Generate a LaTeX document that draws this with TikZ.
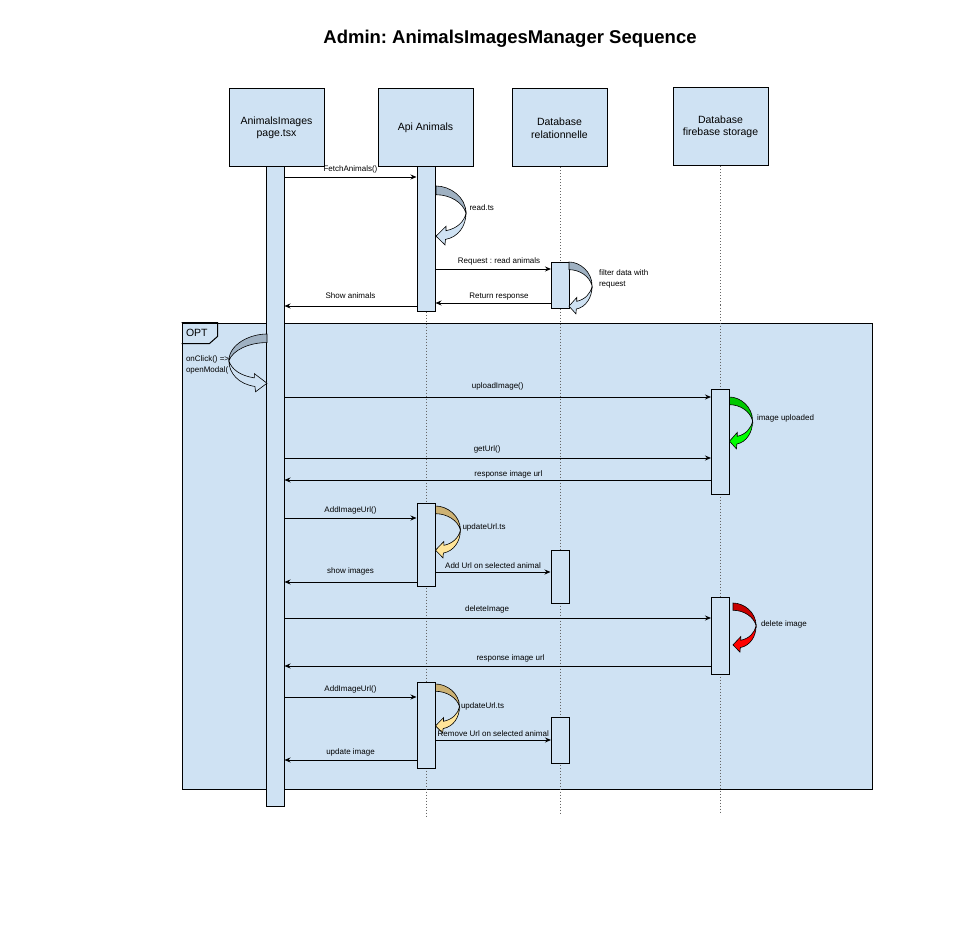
\documentclass[tikz,border=0pt]{standalone}
\usepackage{fontspec}
\setmainfont{Liberation Sans}
\usetikzlibrary{positioning}
\usetikzlibrary{arrows.meta}
\frenchspacing

\definecolor{boxblue}{HTML}{CFE2F3}
\definecolor{shadeblue}{HTML}{9FB1C2}
\definecolor{darkgreen}{HTML}{00C800}
\definecolor{litegreen}{HTML}{00FF00}
\definecolor{darkgold}{HTML}{CDB274}
\definecolor{litegold}{HTML}{FFE599}
\definecolor{darkred}{HTML}{C80000}
\definecolor{litered}{HTML}{FF0000}

\newcommand{\selfcall}[6]{%
  \begin{scope}[shift={(#1,#2)},xscale=#3,yscale=#4,line width=0.6pt]
    \filldraw[fill=#5] (0,0) .. controls (14,0) and (30,10) .. (30,25)
      .. controls (27,15) and (14,8) .. (0,8) -- cycle;
    \filldraw[fill=#6] (30,25) .. controls (30,37) and (22,47) .. (9.5,49)
      -- (9,54) -- (0,46) -- (10,37) -- (10,41)
      .. controls (21,39) and (28,33) .. (30,25) -- cycle;
  \end{scope}}

\begin{document}
\begin{tikzpicture}[x=1pt,y=-1pt,
    head/.style={draw,line width=1pt,fill=boxblue,minimum width=95pt,
      minimum height=78pt,align=center,font=\fontsize{10.5}{12.5}\selectfont},
    act/.style={draw,line width=1pt,fill=boxblue,minimum width=18pt,inner sep=0pt},
    life/.style={draw=black!60,line width=0.8pt,dash pattern=on 1pt off 2pt},
    msg/.style={->,line width=0.9pt},
    lbl/.style={font=\fontsize{8}{10.5}\selectfont},
    >={Stealth[length=6pt,width=5pt]}]
    \useasboundingbox (0,0) rectangle (959,944);

    \path (510, 39) node [font=\bfseries\fontsize{18.5}{22}\selectfont] (title)
	{Admin: AnimalsImagesManager Sequence};

    % OPT frame
    \path (527, 556) node [draw,line width=1pt,fill=boxblue,inner sep=0pt,
	minimum width=690pt,minimum height=466pt] (opt) {};
    \draw [line width=1pt] (opt.north west) -- ++(36,0) -- ++(0,14)
	-- ++(-8,7) -- ++(-28,0);
    \path (opt.north west) ++(1,10) node [anchor=west,font=\fontsize{10.5}{12}\selectfont] (optlbl) {OPT};

    \path (276.5, 128) node [head] (pA) {AnimalsImages\\page.tsx};
    \path (425.5, 128) node [head] (pB) {Api Animals};
    \path (559.5, 128) node [head] (pC) {Database\\relationnelle};
    \path (720.5, 127) node [head] (pD) {Database\\firebase storage};

    \path (426.5, 817) coordinate (endB) (560.5, 813) coordinate (endC)
	(720.5, 813) coordinate (endD);
    \draw [life] (pB.south -| endB) -- (endB);
    \draw [life] (pC.south -| endC) -- (endC);
    \draw [life] (pD.south -| endD) -- (endD);

    \path (275, 486.5) node [act,minimum height=639pt] (actA) {};
    \path (426, 239) node [act,minimum height=144pt] (actB1) {};
    \path (560.5, 285.5) node [act,minimum height=45pt] (actC1) {};
    \path (720.5, 441.5) node [act,minimum height=105pt] (actD1) {};
    \path (426, 544.5) node [act,minimum height=83pt] (actB2) {};
    \path (560, 576.5) node [act,minimum height=53pt] (actC2) {};
    \path (720.5, 635.5) node [act,minimum height=77pt] (actD2) {};
    \path (426, 725) node [act,minimum height=86pt] (actB3) {};
    \path (560.5, 740) node [act,minimum height=46pt] (actC3) {};

    \selfcall{436}{186}{1}{1.09}{shadeblue}{boxblue}
    \selfcall{569}{262}{0.77}{0.96}{shadeblue}{boxblue}
    \selfcall{267}{334}{-1.27}{1.07}{shadeblue}{boxblue}
    \selfcall{729.5}{397}{0.77}{0.96}{darkgreen}{litegreen}
    \selfcall{435.5}{506}{0.83}{0.96}{darkgold}{litegold}
    \selfcall{733}{603}{0.77}{0.91}{darkred}{litered}
    \selfcall{435.5}{684}{0.8}{0.91}{darkgold}{litegold}

    \path (466, 207.5) node [lbl,anchor=west] (readlbl) {read.ts};
    \path (595.5, 279) node [lbl,anchor=west,align=left] (filterlbl) {filter data with\\request};
    \path (182.5, 365) node [lbl,anchor=west,align=left] (clicklbl) {onClick() =>\\openModal(};
    \path (753.5, 418) node [lbl,anchor=west] (uplbl) {image uploaded};
    \path (459, 527.5) node [lbl,anchor=west] (upd1lbl) {updateUrl.ts};
    \path (757.5, 624.5) node [lbl,anchor=west] (dellbl) {delete image};
    \path (457.5, 706) node [lbl,anchor=west] (upd2lbl) {updateUrl.ts};

    % message levels
    \path (0,177) coordinate (yFetch) (0,269) coordinate (yRequest)
	(0,303) coordinate (yReturn) (0,306) coordinate (yShow)
	(0,397) coordinate (yUpload) (0,458) coordinate (yGetUrl)
	(0,480) coordinate (yResp1) (0,518) coordinate (yAdd1)
	(0,572) coordinate (yAddUrl) (0,582) coordinate (yShowImg)
	(0,618) coordinate (yDelete) (0,666) coordinate (yResp2)
	(0,697) coordinate (yAdd2) (0,740) coordinate (yRemove)
	(0,760) coordinate (yUpdImg);

    \draw [msg] (actA.east |- yFetch) -- (actB1.west |- yFetch)
	node[lbl,midway,above] {FetchAnimals()};
    \draw [msg] (actB1.east |- yRequest) -- (actC1.west |- yRequest)
	node[lbl,pos=0.55,above] {Request : read animals};
    \draw [msg] (actC1.west |- yReturn) -- (actB1.east |- yReturn)
	node[lbl,pos=0.45,above=-1pt] {Return response};
    \draw [msg] (actB1.west |- yShow) -- (actA.east |- yShow)
	node[lbl,midway,above=4pt] {Show animals};

    \draw [msg] (actA.east |- yUpload) -- (actD1.west |- yUpload)
	node[lbl,midway,above=3pt] {uploadImage()};
    \draw [msg] (actA.east |- yGetUrl) -- (actD1.west |- yGetUrl)
	node[lbl,pos=0.475,above=1.5pt] {getUrl()};
    \draw [msg] (actD1.west |- yResp1) -- (actA.east |- yResp1)
	node[lbl,pos=0.475,above=-2pt] {response image url};
    \draw [msg] (actA.east |- yAdd1) -- (actB2.west |- yAdd1)
	node[lbl,midway,above] {AddImageUrl()};
    \draw [msg] (actB2.east |- yAddUrl) -- (actC2.west |- yAddUrl)
	node[lbl,midway,above] {Add Url on selected animal};
    \draw [msg] (actB2.west |- yShowImg) -- (actA.east |- yShowImg)
	node[lbl,midway,above=3pt] {show images};
    \draw [msg] (actA.east |- yDelete) -- (actD2.west |- yDelete)
	node[lbl,pos=0.475,above=1.5pt] {deleteImage};
    \draw [msg] (actD2.west |- yResp2) -- (actA.east |- yResp2)
	node[lbl,pos=0.47,above] {response image url};
    \draw [msg] (actA.east |- yAdd2) -- (actB3.west |- yAdd2)
	node[lbl,midway,above] {AddImageUrl()};
    \draw [msg] (actB3.east |- yRemove) -- (actC3.west |- yRemove)
	node[lbl,midway,above] {Remove Url on selected animal};
    \draw [msg] (actB3.west |- yUpdImg) -- (actA.east |- yUpdImg)
	node[lbl,midway,above] {update image};
\end{tikzpicture}
\end{document}
